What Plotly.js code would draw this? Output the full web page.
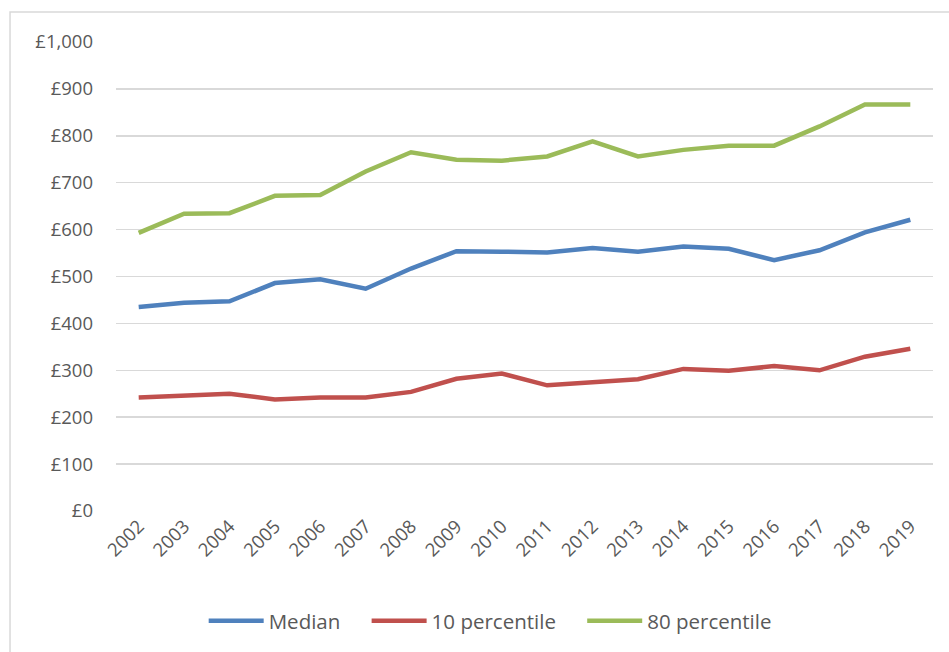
<!DOCTYPE html>
<html>
<head>
<meta charset="utf-8">
<script src="https://cdn.plot.ly/plotly-3.0.1.min.js"></script>
<style>html,body{margin:0;padding:0;background:#fff;}#chart{width:949px;height:652px;}</style>
</head>
<body>
<div id="chart"></div>
<script>
const years = ["2002","2003","2004","2005","2006","2007","2008","2009","2010","2011","2012","2013","2014","2015","2016","2017","2018","2019"];
const median = [435, 444, 447, 486, 494, 474, 517, 554, 553, 551, 561, 553, 564, 559, 535, 556, 594, 621];
const p10 = [242, 245, 250, 238, 242, 242, 254, 282, 293, 268, 275, 281, 303, 299, 309, 300, 329, 346];
const p80 = [593, 634, 635, 672, 674, 724, 765, 749, 747, 756, 788, 756, 770, 779, 779, 820, 867, 867];
const seriesNames = ["Median", "10 percentile", "80 percentile"];
const yTicks = [0,100,200,300,400,500,600,700,800,900,1000];
const yTickText = ["£0","£100","£200","£300","£400","£500","£600","£700","£800","£900","£1,000"];

const font = {family: "'Open Sans', sans-serif", size: 18.5, color: "#595959"};
const legendFont = {family: "'Open Sans', sans-serif", size: 20.5, color: "#595959"};
const pad = "\u00a0\u00a0\u00a0\u00a0";
function tr(name, y, color, last){
  return {x: years, y: y, name: last ? name : name + pad, type: "scatter", mode: "lines",
    line: {color: color, width: 4.5}, hoverinfo: "skip"};
}
const data = [tr(seriesNames[0], median, "#4f81bd"), tr(seriesNames[1], p10, "#c0504d"), tr(seriesNames[2], p80, "#9bbb59", true)];
const layout = {
  width: 949, height: 652,
  margin: {l: 116, r: 16, t: 42, b: 140},
  paper_bgcolor: "#fff", plot_bgcolor: "#fff",
  font: font,
  showlegend: true,
  legend: {orientation: "h", x: 0.458, xanchor: "center", y: -0.232, yanchor: "middle",
    font: legendFont, itemwidth: 55, tracegroupgap: 0},
  xaxis: {type: "category", range: [-0.5, 17.5], tickangle: -45, showgrid: false,
    showline: false, zeroline: false, ticks: "", tickfont: font, fixedrange: true},
  yaxis: {range: [0, 1000], tickvals: yTicks, ticktext: yTickText, showgrid: true,
    gridcolor: "#d9d9d9", gridwidth: 1.5, zeroline: false, showline: false, ticks: "",
    tickfont: font, ticklabelstandoff: 22, fixedrange: true},
  shapes: [{type: "rect", xref: "paper", yref: "paper", x0: -0.1297, x1: 1.2, y0: -0.5, y1: 1.0638,
    line: {color: "#d9d9d9", width: 1.5}, fillcolor: "rgba(0,0,0,0)", layer: "below"}]
};
Plotly.newPlot("chart", data, layout, {displayModeBar: false, staticPlot: true});
</script>
</body>
</html>
